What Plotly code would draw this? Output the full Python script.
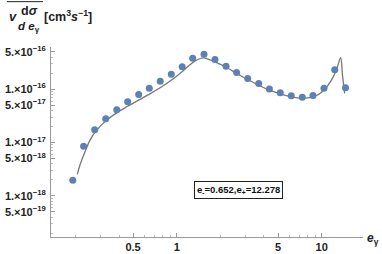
import plotly.graph_objects as go

# data points (blue dots)
e_pts = [0.192, 0.228, 0.272, 0.324, 0.386, 0.459, 0.547, 0.647, 0.770, 0.918,
         1.091, 1.289, 1.543, 1.837, 2.19, 2.59, 3.09, 3.68, 4.36, 5.18,
         6.17, 7.35, 8.71, 10.37, 12.3, 14.6]
sig_pts = [1.96e-18, 8.49e-18, 1.73e-17, 2.79e-17, 4.10e-17, 5.79e-17, 7.96e-17, 1.04e-16, 1.41e-16, 1.91e-16,
           2.63e-16, 3.80e-16, 4.51e-16, 3.59e-16, 2.69e-16, 2.05e-16, 1.58e-16, 1.28e-16, 1.01e-16, 8.53e-17,
           7.50e-17, 7.08e-17, 7.62e-17, 1.04e-16, 2.30e-16, 1.06e-16]

# theory curve (gray line)
e_curve = [0.2063, 0.2153, 0.2332, 0.2524, 0.2807, 0.3291, 0.3857, 0.4518, 0.5582, 0.6895,
           0.8531, 1.054, 1.235, 1.409, 1.525, 1.610, 1.837, 2.212, 2.593, 3.088,
           3.678, 4.351, 5.183, 6.171, 7.347, 8.751, 10.37, 12.02, 12.75, 13.52,
           13.91, 14.41]
sig_curve = [2.55e-18, 3.80e-18, 6.73e-18, 1.11e-17, 1.71e-17, 2.63e-17, 3.60e-17, 4.67e-17, 6.42e-17, 8.90e-17,
             1.278e-16, 1.966e-16, 2.87e-16, 3.64e-16, 3.85e-16, 3.75e-16, 3.24e-16, 2.55e-16, 1.97e-16, 1.52e-16,
             1.19e-16, 9.58e-17, 8.17e-17, 7.18e-17, 6.79e-17, 7.18e-17, 9.58e-17, 1.70e-16, 2.47e-16, 3.88e-16,
             1.83e-16, 8.31e-17]

x_tickvals = [0.5, 1, 5, 10]
x_ticktext = ["0.5", "1", "5", "10"]
y_tickvals = [5e-16, 1e-16, 5e-17, 1e-17, 5e-18, 1e-18, 5e-19]
y_ticktext = ["5.×10<sup>−16</sup>", "1.×10<sup>−16</sup>", "5.×10<sup>−17</sup>",
              "1.×10<sup>−17</sup>", "5.×10<sup>−18</sup>", "1.×10<sup>−18</sup>",
              "5.×10<sup>−19</sup>"]
x_minor = [0.2, 0.3, 0.4, 0.6, 0.7, 0.8, 0.9, 2, 3, 4, 6, 7, 8, 9]
y_minor = [m * 10.0 ** p for p in (-19, -18, -17, -16) for m in (2, 3, 4, 6, 7, 8, 9)]

label = "e<sub>-</sub>=0.652,e<sub>+</sub>=12.278"

fig = go.Figure()
fig.add_trace(go.Scatter(x=e_curve, y=sig_curve, mode="lines",
                         line=dict(color="#777777", width=1.3), line_shape="spline",
                         hoverinfo="skip", showlegend=False))
fig.add_trace(go.Scatter(x=e_pts, y=sig_pts, mode="markers",
                         marker=dict(color="#5E81B5", size=7), showlegend=False))

tickfont = dict(family="Liberation Sans, Arial", size=11, color="#222", weight="bold")
axis_common = dict(type="log", showgrid=False, zeroline=False, showline=True,
                   linecolor="#999", linewidth=1, ticks="inside", ticklen=4,
                   tickcolor="#999", tickfont=tickfont, automargin=False)

fig.update_xaxes(**axis_common, range=[-0.867, 1.285], tickmode="array",
                 tickvals=x_tickvals, ticktext=x_ticktext,
                 minor=dict(tickvals=x_minor, ticks="inside", ticklen=2, tickcolor="#bbb"))
fig.update_yaxes(**axis_common, range=[-18.77, -15.21], tickmode="array",
                 tickvals=y_tickvals, ticktext=y_ticktext, ticklabelstandoff=2,
                 minor=dict(tickvals=y_minor, ticks="inside", ticklen=2, tickcolor="#bbb"))

font_b = dict(family="Liberation Sans, Arial", color="#222", weight="bold")

def px_x(p):
    return (p - 51) / 312.0

def px_y(p):
    return (237.3 - p) / 190.6

anns = [
    dict(text="<i>v</i>", x=px_x(12.7), y=px_y(16), size=13, anchor="center"),
    dict(text="d<i>σ</i>", x=px_x(29), y=px_y(10.5), size=12.5, anchor="center"),
    dict(text="<i>d e</i><sub>γ</sub>", x=px_x(29), y=px_y(27), size=11.5, anchor="center"),
    dict(text="[cm<sup>3</sup><i>s</i><sup>−1</sup>]", x=px_x(42), y=px_y(16), size=12.5, anchor="left"),
    dict(text="<i>e</i><sub>γ</sub>", x=px_x(365), y=px_y(239), size=12, anchor="left"),
]
for a in anns:
    fig.add_annotation(text=a["text"], x=a["x"], y=a["y"], xref="paper", yref="paper",
                       showarrow=False, xanchor=a["anchor"], yanchor="middle",
                       font=dict(**font_b, size=a["size"]))

fig.add_annotation(text=label, x=px_x(238.7), y=px_y(190), xref="paper", yref="paper",
                   showarrow=False, xanchor="center", yanchor="middle",
                   font=dict(family="Liberation Sans, Arial", size=9.5, color="#111", weight="bold"),
                   bordercolor="#222", borderwidth=1, borderpad=2, bgcolor="white")

fig.add_shape(type="line", xref="paper", yref="paper",
              x0=px_x(7), x1=px_x(43), y0=px_y(1.2), y1=px_y(1.2),
              line=dict(color="#222", width=1))

fig.update_layout(width=382, height=254, margin=dict(l=51, r=19, t=47, b=17),
                  plot_bgcolor="white", paper_bgcolor="white", showlegend=False)

fig.write_html("out.html", config={"displayModeBar": False},
               post_script="document.body.style.margin='0';document.body.style.overflow='hidden';")
